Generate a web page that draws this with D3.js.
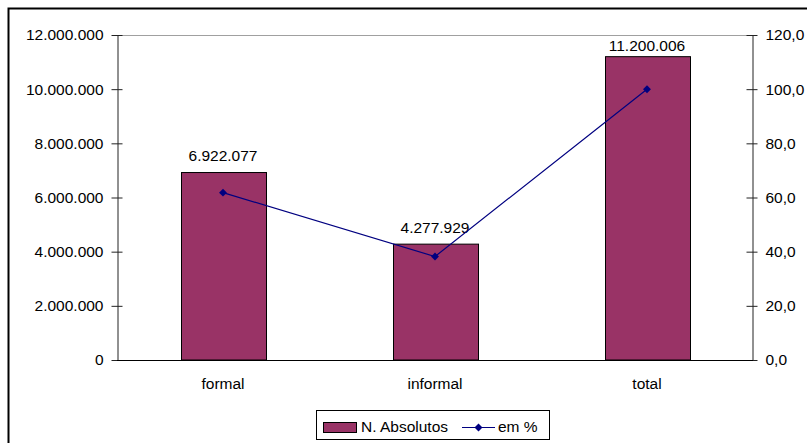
<!DOCTYPE html>
<html>
<head>
<meta charset="utf-8">
<script src="https://cdn.jsdelivr.net/npm/d3@7"></script>
<style>
  html, body { margin: 0; padding: 0; background: #fff; }
  svg { display: block; font-family: "Liberation Sans", Arial, sans-serif; }
</style>
</head>
<body>
<svg id="chart" width="807" height="443"></svg>
<script>
// Workers by type of employment: absolute numbers (bars) and share in % (line)
const categories = ["formal", "informal", "total"];
const absolutos = [6922077, 4277929, 11200006];
const percentuais = [61.8, 38.2, 100.0];
const leftTicks = [0, 2000000, 4000000, 6000000, 8000000, 10000000, 12000000];
const rightTicks = [0, 20, 40, 60, 80, 100, 120];
const seriesNames = ["N. Absolutos", "em %"];

const svg = d3.select("#chart");
const W = 807, H = 443;
const plot = { left: 117, right: 753, top: 35, bottom: 360 };

const fmtAbs = v => d3.format(",")(v).replace(/,/g, ".");
const fmtPct = v => d3.format(".1f")(v).replace(".", ",");

const x = d3.scaleBand().domain(categories).range([plot.left, plot.right]).paddingInner(0.6).paddingOuter(0.3);
const yL = d3.scaleLinear().domain([0, 12000000]).range([plot.bottom, plot.top]);
const yR = d3.scaleLinear().domain([0, 120]).range([plot.bottom, plot.top]);

// outer chart frame
svg.append("rect")
  .attr("x", 8.5).attr("y", 8.5).attr("width", 820).attr("height", 460)
  .attr("fill", "#fff").attr("stroke", "#000").attr("stroke-width", 2);

// plot area top border
svg.append("line")
  .attr("x1", plot.left).attr("x2", plot.right)
  .attr("y1", plot.top + 0.5).attr("y2", plot.top + 0.5)
  .attr("stroke", "#a0a0a0").attr("stroke-width", 1);

// bars
svg.append("g").selectAll("rect").data(categories).join("rect")
  .attr("x", d => Math.round(x(d)) + 0.5)
  .attr("y", (d, i) => yL(absolutos[i]))
  .attr("width", Math.round(x.bandwidth()))
  .attr("height", (d, i) => plot.bottom - yL(absolutos[i]))
  .attr("fill", "#993366").attr("stroke", "#000").attr("stroke-width", 1);

// value labels above bars
svg.append("g").selectAll("text").data(categories).join("text")
  .attr("x", d => x(d) + x.bandwidth() / 2)
  .attr("y", (d, i) => Math.max(yL(absolutos[i]) - 11.5, plot.top + 16))
  .attr("text-anchor", "middle")
  .attr("font-size", 15.5).attr("fill", "#000")
  .text((d, i) => fmtAbs(absolutos[i]));

// left axis
const axL = svg.append("g").attr("transform", `translate(${plot.left + 0.5},0)`)
  .call(d3.axisLeft(yL).tickValues(leftTicks).tickFormat(fmtAbs).tickSizeInner(6).tickSizeOuter(0).tickPadding(8));
axL.select(".domain").attr("stroke", "#222");
axL.selectAll(".tick line").attr("x2", 5).attr("x1", -6).attr("stroke", "#222");
axL.selectAll(".tick text").attr("font-size", 15.5).attr("fill", "#000").attr("x", -14)
  .attr("font-family", "Liberation Sans, Arial, sans-serif");

// right axis
const axR = svg.append("g").attr("transform", `translate(${plot.right - 0.5},0)`)
  .call(d3.axisRight(yR).tickValues(rightTicks).tickFormat(fmtPct).tickSizeInner(6).tickSizeOuter(0));
axR.select(".domain").attr("stroke", "#222");
axR.selectAll(".tick line").attr("x1", -6).attr("x2", 5).attr("stroke", "#222");
axR.selectAll(".tick text").attr("font-size", 15.5).attr("fill", "#000").attr("x", 13)
  .attr("font-family", "Liberation Sans, Arial, sans-serif");

// category axis
const axB = svg.append("g").attr("transform", `translate(0,${plot.bottom + 0.5})`)
  .call(d3.axisBottom(x).tickSize(0).tickPadding(17));
axB.select(".domain").attr("stroke", "#000").attr("d", `M${plot.left},0H${plot.right}`);
axB.selectAll(".tick text").attr("font-size", 15.5).attr("fill", "#000")
  .attr("font-family", "Liberation Sans, Arial, sans-serif");

// percentage line with diamond markers
const cx = d => x(d) + x.bandwidth() / 2;
const line = d3.line().x((d, i) => cx(categories[i])).y(d => yR(d));
svg.append("path").datum(percentuais)
  .attr("d", line).attr("fill", "none").attr("stroke", "#000080").attr("stroke-width", 1.2);
const diamond = d3.symbol().type(d3.symbolDiamond2).size(40);
svg.append("g").selectAll("path").data(percentuais).join("path")
  .attr("transform", (d, i) => `translate(${cx(categories[i])},${yR(d)})`)
  .attr("d", diamond).attr("fill", "#000080");

// legend
const lg = svg.append("g");
lg.append("rect").attr("x", 316.5).attr("y", 410.5).attr("width", 233).attr("height", 29)
  .attr("fill", "#fff").attr("stroke", "#000").attr("stroke-width", 1);
lg.append("rect").attr("x", 323.5).attr("y", 422.5).attr("width", 33).attr("height", 10)
  .attr("fill", "#993366").attr("stroke", "#000").attr("stroke-width", 1);
lg.append("text").attr("x", 361).attr("y", 432).attr("font-size", 15.5).text(seriesNames[0]);
lg.append("line").attr("x1", 462).attr("x2", 495).attr("y1", 427.5).attr("y2", 427.5)
  .attr("stroke", "#000080").attr("stroke-width", 1.2);
lg.append("path").attr("transform", "translate(478.5,427.5)").attr("d", diamond).attr("fill", "#000080");
lg.append("text").attr("x", 498).attr("y", 432).attr("font-size", 15.5).text(seriesNames[1]);
</script>
</body>
</html>
